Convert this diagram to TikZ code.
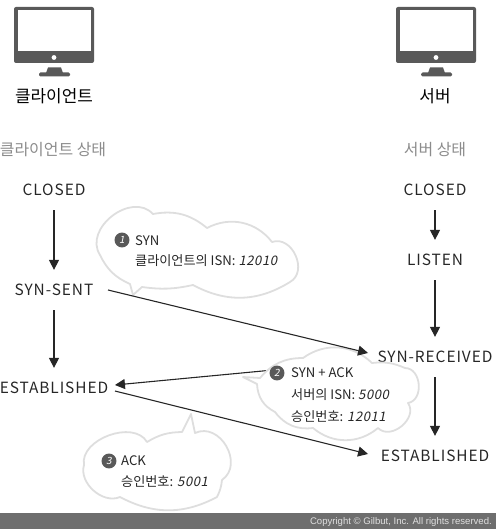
\documentclass[tikz,border=0pt]{standalone}
\usepackage{fontspec}
\setmainfont{Noto Sans CJK KR}
\newfontfamily\statefont[LetterSpace=6]{Noto Sans CJK KR}
\newfontfamily\numfont[FakeSlant=0.2,LetterSpace=4]{Noto Sans CJK KR}
\newfontfamily\footfont{Liberation Sans}
\usetikzlibrary{arrows.meta}
\definecolor{screengray}{HTML}{595959}
\definecolor{bargray}{HTML}{6E6E6E}
\tikzset{
  statenode/.style={font=\statefont\fontsize{15.5}{18}\selectfont, minimum height=40, inner sep=0, text=black!85},
  flow/.style={-{Triangle[length=10,width=10]}, line width=1.1, black!85},
  bubble/.style={draw=black!13, line width=1.8, fill=white, line join=round},
  bubbletext/.style={anchor=west, inner sep=0, font=\fontsize{13.2}{15}\selectfont, text=black!85},
  badge/.style={circle, fill=screengray, text=white, inner sep=0, minimum size=15, font=\numfont\fontsize{10}{10}\selectfont},
  headtext/.style={font=\fontsize{17}{19}\selectfont},
  graytext/.style={font=\fontsize{16}{18}\selectfont, text=black!45}
}
\begin{document}
\begin{tikzpicture}[x=1bp, y=-1bp]

     \useasboundingbox (0,0) rectangle (496,529);

     % monitors
     \foreach \mx in {0,382} {
       \begin{scope}[xshift=\mx bp]
         \fill[screengray, rounded corners=2] (14,7) rectangle (94,63);
         \fill[white] (18,10) rectangle (91,51);
         \fill[white] (54,57.5) circle (2.4);
         \fill[screengray] (46,73) -- (48,67.5) -- (61,67.5) -- (63,73) -- cycle;
         \fill[screengray, rounded corners=1.5] (39,72.5) rectangle (70,76.5);
       \end{scope}
     }

     % headings
     \node[headtext] (clienthead) at (54,96) {클라이언트};
     \node[headtext] (serverhead) at (435,96) {서버};
     \node[graytext] (clientstate) at (53,150) {클라이언트 상태};
     \node[graytext] (serverstate) at (435,150) {서버 상태};

     % client states
     \node[statenode] (cclosed) at (54,190) {CLOSED};
     \node[statenode, minimum width=108] (csent) at (54,290) {SYN-SENT};
     \node[statenode, minimum width=122] (cestab) at (54,388) {ESTABLISHED};

     % server states
     \node[statenode] (sclosed) at (435,190) {CLOSED};
     \node[statenode] (slisten) at (435,260) {LISTEN};
     \node[statenode, minimum width=134] (sreceived) at (435,357) {SYN-RECEIVED};
     \node[statenode, minimum width=134] (sestab) at (435,456) {ESTABLISHED};

     % state flow
     \draw[flow] (cclosed) -- (csent);
     \draw[flow] (csent) -- (cestab);
     \draw[flow] (sclosed) -- (slisten);
     \draw[flow] (slisten) -- (sreceived);
     \draw[flow] (sreceived) -- (sestab);

     % reply goes behind bubble 2
     \draw[flow] ([yshift=-4bp]sreceived.west) -- ([yshift=3bp]cestab.east);

     % bubble 1
     \draw[bubble] (130,284) to[bend left=20] (100,255) to[bend left=85, looseness=1.2] (153,214)
       to[bend left=25] (207,228) to[bend left=40] (272,242)
       to[bend left=85, looseness=1.25] (290,282) to[bend left=30] (193,285)
       to[bend left=10] (142,287) -- (133,295) -- cycle;
     \node[badge] (one) at (122,240) {1};
     \node[bubbletext] (syn) at (135,241) {SYN};
     \node[bubbletext] (clientisn) at (135,261) {클라이언트의 ISN: {\numfont 12010}};

     % bubble 2
     \draw[bubble] (260,378) to[bend left=25] (303,358) to[bend left=40] (372,363)
       to[bend left=15] (405,368) to[bend left=85, looseness=1.2] (408,403)
       to[bend left=85, looseness=1.2] (378,428)
       to[bend left=40] (313,428) to[bend left=30] (275,412) to[bend left=30] (257,384)
       -- (243,377) -- cycle;
     \node[badge] (two) at (277,373) {2};
     \node[bubbletext] (synack) at (291,373) {SYN + ACK};
     \node[bubbletext] (serverisn) at (291,395) {서버의 ISN: {\numfont 5000}};
     \node[bubbletext] (acknum) at (291,417) {승인번호: {\numfont 12011}};

     % bubble 3
     \draw[bubble] (182,432) to[bend right=15] (147,442) to[bend right=80] (84,465)
       to[bend right=65] (120,497) to[bend right=28] (217,497) to[bend right=10] (222,480)
       to[bend right=85, looseness=1.3] (195,433) -- (191,414) -- cycle;
     \node[badge] (three) at (109,461) {3};
     \node[bubbletext] (ack) at (121,461) {ACK};
     \node[bubbletext] (acknumtwo) at (121,482) {승인번호: {\numfont 5001}};

     % segments
     \draw[flow] (csent.east) -- ([yshift=4bp]sreceived.west);
     \draw[flow] ([yshift=-3bp]cestab.east) -- ([yshift=2bp]sestab.west);

     % footer
     \fill[bargray] (0,513) rectangle (496,529);
     \node[anchor=east, inner sep=0, text=white!88!black, font=\footfont\fontsize{9.6}{11}\selectfont] (copyright) at (492,522.5) {Copyright © Gilbut, Inc. All rights reserved.};

\end{tikzpicture}
\end{document}
